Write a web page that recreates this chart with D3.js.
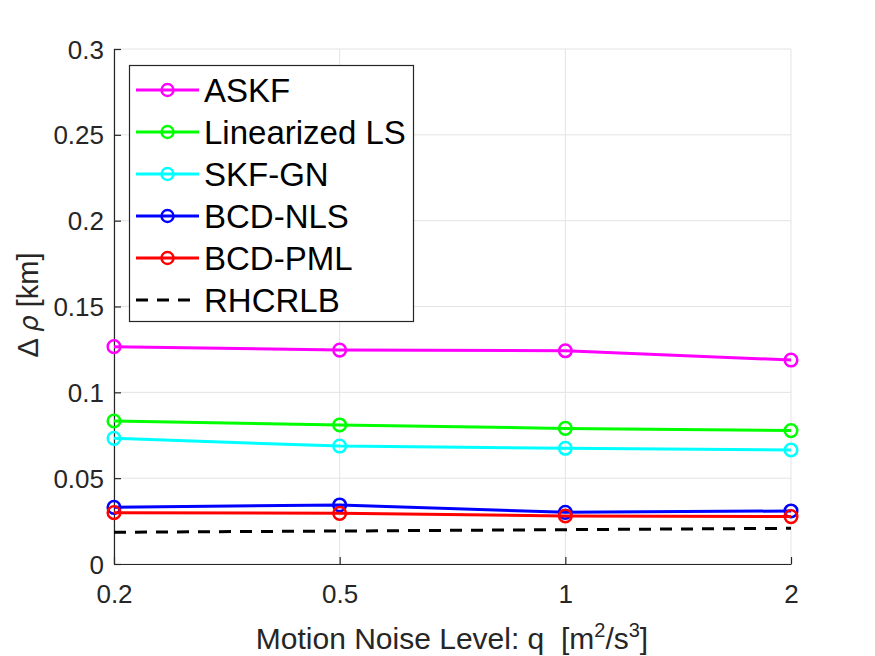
<!DOCTYPE html>
<html>
<head>
<meta charset="utf-8">
<script src="https://cdn.jsdelivr.net/npm/d3@7"></script>
<style>
  html, body { margin: 0; padding: 0; background: #fff; }
  svg { display: block; }
</style>
</head>
<body>
<svg id="chart" width="875" height="656"></svg>
<script>
const categories = ["0.2", "0.5", "1", "2"];
const yTicks = [0, 0.05, 0.1, 0.15, 0.2, 0.25, 0.3];
const yTickLabels = ["0", "0.05", "0.1", "0.15", "0.2", "0.25", "0.3"];
const seriesNames = ["ASKF", "Linearized LS", "SKF-GN", "BCD-NLS", "BCD-PML", "RHCRLB"];
const seriesColors = ["#ff00ff", "#00ff00", "#00ffff", "#0000ff", "#ff0000", "#000000"];
const askf = [0.1266, 0.1246, 0.1242, 0.1188];
const linLS = [0.0833, 0.0810, 0.0790, 0.0777];
const skfGN = [0.0732, 0.0687, 0.0674, 0.0664];
const bcdNLS = [0.0330, 0.0344, 0.0301, 0.0309];
const bcdPML = [0.0299, 0.0295, 0.0280, 0.0276];
const rhcrlb = [0.0185, 0.0192, 0.0200, 0.0208];
const seriesValues = [askf, linLS, skfGN, bcdNLS, bcdPML, rhcrlb];
const hasMarkers = [true, true, true, true, true, false];

const svg = d3.select("#chart");
const L = 114, R = 791, T = 49, B = 564;
const x = d3.scalePoint().domain(categories).range([L, R]).padding(0);
const y = d3.scaleLinear().domain([0, 0.3]).range([B, T]);
const font = "Arial, 'Liberation Sans', Helvetica, sans-serif";

// grid
const grid = svg.append("g");
grid.selectAll("line.gx").data(categories).join("line")
  .attr("x1", d => x(d)).attr("x2", d => x(d)).attr("y1", T).attr("y2", B)
  .attr("stroke", "#e3e3e3").attr("stroke-width", 1);
grid.selectAll("line.gy").data(yTicks).join("line")
  .attr("x1", L).attr("x2", R).attr("y1", d => y(d)).attr("y2", d => y(d))
  .attr("stroke", "#e3e3e3").attr("stroke-width", 1);

// axes
const xAxis = d3.axisBottom(x).tickSizeInner(-7).tickSizeOuter(0).tickPadding(21);
const gx = svg.append("g").attr("transform", `translate(0,${B})`).call(xAxis);
const yAxis = d3.axisLeft(y).tickValues(yTicks).tickFormat((d, i) => yTickLabels[i]).tickSizeInner(-7).tickSizeOuter(0).tickPadding(10);
const gy = svg.append("g").attr("transform", `translate(${L},0)`).call(yAxis);
[gx, gy].forEach(g => {
  g.select(".domain").attr("stroke", "#262626").attr("stroke-width", 1.2);
  g.selectAll(".tick line").attr("stroke", "#262626").attr("stroke-width", 1.2);
  g.selectAll(".tick text").attr("fill", "#262626").attr("font-size", 26).attr("font-family", font);
});
gy.selectAll(".tick text").attr("dy", "0.35em");
gx.selectAll(".tick text").attr("dy", "0.71em");

// lines
const line = d3.line().x((d, i) => x(categories[i])).y(d => y(d));
seriesValues.forEach((vals, si) => {
  const g = svg.append("g");
  g.append("path").datum(vals).attr("d", line)
    .attr("fill", "none").attr("stroke", seriesColors[si]).attr("stroke-width", 3)
    .attr("stroke-dasharray", hasMarkers[si] ? null : "12,9");
  if (hasMarkers[si]) {
    g.selectAll("circle").data(vals).join("circle")
      .attr("cx", (d, i) => x(categories[i])).attr("cy", d => y(d)).attr("r", 6.3)
      .attr("fill", "none").attr("stroke", seriesColors[si]).attr("stroke-width", 2.5);
  }
});

// x label
svg.append("text").attr("x", 452).attr("y", 649).attr("text-anchor", "middle")
  .attr("font-family", font).attr("font-size", 30).attr("fill", "#262626")
  .html('Motion Noise Level: q&#160;&#160;[m<tspan dy="-12" font-size="20">2</tspan><tspan dy="12">/s</tspan><tspan dy="-12" font-size="20">3</tspan><tspan dy="12">]</tspan>');

// y label
svg.append("text").attr("transform", "translate(38,305) rotate(-90)").attr("text-anchor", "middle")
  .attr("font-family", font).attr("font-size", 29).attr("fill", "#262626")
  .html('Δ <tspan font-style="italic" font-family="\'DejaVu Sans\', sans-serif" font-size="26">ρ</tspan> [km]');

// legend
const lg = svg.append("g");
lg.append("rect").attr("x", 129.5).attr("y", 65.5).attr("width", 284).attr("height", 256)
  .attr("fill", "#fff").attr("stroke", "#262626").attr("stroke-width", 1.2);
const rowY = d3.scaleLinear().domain([0, 5]).range([90, 300]);
seriesNames.forEach((name, i) => {
  const yy = rowY(i);
  lg.append("line").attr("x1", 136).attr("x2", 199).attr("y1", yy).attr("y2", yy)
    .attr("stroke", seriesColors[i]).attr("stroke-width", 3)
    .attr("stroke-dasharray", hasMarkers[i] ? null : "12,9");
  if (hasMarkers[i]) {
    lg.append("circle").attr("cx", 167.5).attr("cy", yy).attr("r", 6)
      .attr("fill", "none").attr("stroke", seriesColors[i]).attr("stroke-width", 2.4);
  }
  lg.append("text").attr("x", 204).attr("y", yy).attr("dy", "0.36em")
    .attr("font-family", font).attr("font-size", 33).attr("fill", "#000")
    .text(name);
});
</script>
</body>
</html>
